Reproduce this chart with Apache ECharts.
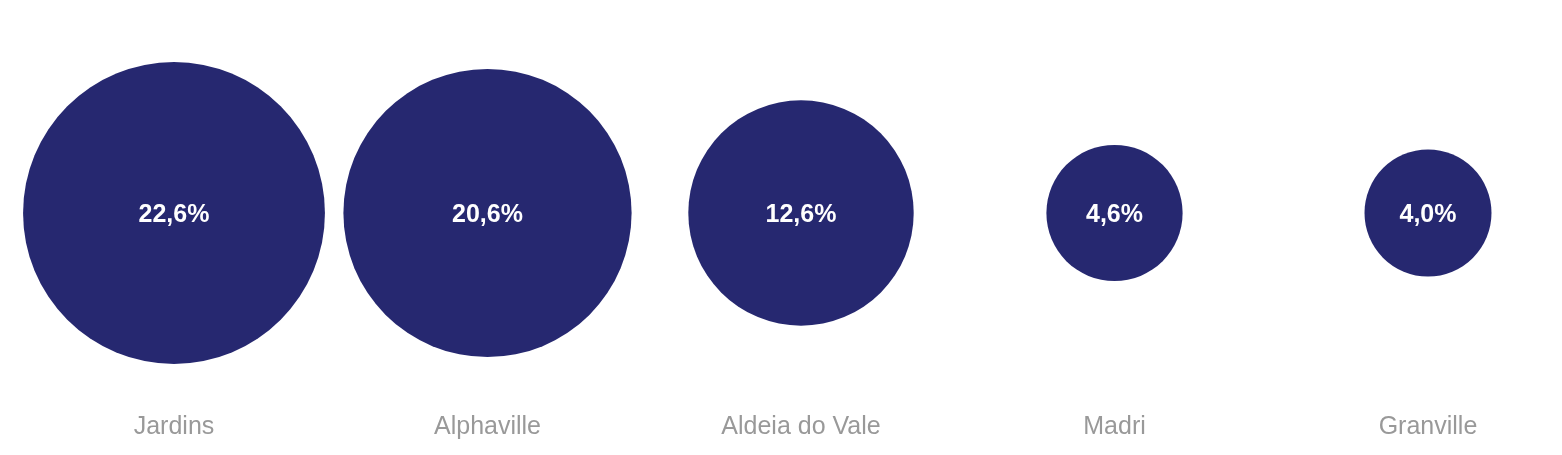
<!DOCTYPE html>
<html>
<head>
<meta charset="utf-8">
<script src="https://cdn.jsdelivr.net/npm/echarts@6/dist/echarts.min.js"></script>
<style>
  html, body { margin: 0; padding: 0; background: #fff; }
  #chart1 { width: 1562px; height: 455px; }
</style>
</head>
<body>
<div id="chart1"></div>
<script>
var cidades = ['Jardins', 'Alphaville', 'Aldeia do Vale', 'Madri', 'Granville'];
var percentuais = [22.6, 20.6, 12.6, 4.6, 4.0];

var myChart = echarts.init(document.getElementById('chart1'));

// tamanho proporcional à área
function tamanho(v) {
    return 63.5 * Math.sqrt(v);
}

myChart.setOption({
    animation: false,
    grid: {
        left: 174,
        right: 134,
        top: 13,
        bottom: 42
    },
    xAxis: {
        type: 'category',
        data: cidades,
        boundaryGap: false,
        axisLine: { show: false },
        axisTick: { show: false },
        splitLine: { show: false },
        axisLabel: {
            color: '#999999',
            fontSize: 25,
            fontFamily: 'Liberation Sans, Arial, sans-serif',
            margin: 2
        }
    },
    yAxis: {
        type: 'value',
        min: 0,
        max: 2,
        show: false
    },
    series: [
        {
            type: 'scatter',
            data: percentuais.map(function (v, i) {
                return [cidades[i], 1, v];
            }),
            symbolSize: function (d) {
                return tamanho(d[2]);
            },
            itemStyle: {
                color: '#262870',
                opacity: 1
            },
            label: {
                show: true,
                position: 'inside',
                offset: [0, 2],
                color: '#ffffff',
                fontSize: 25,
                fontWeight: 'bold',
                fontFamily: 'Liberation Sans, Arial, sans-serif',
                formatter: function (p) {
                    return p.data[2].toFixed(1).replace('.', ',') + '%';
                }
            }
        }
    ]
});
</script>
</body>
</html>
